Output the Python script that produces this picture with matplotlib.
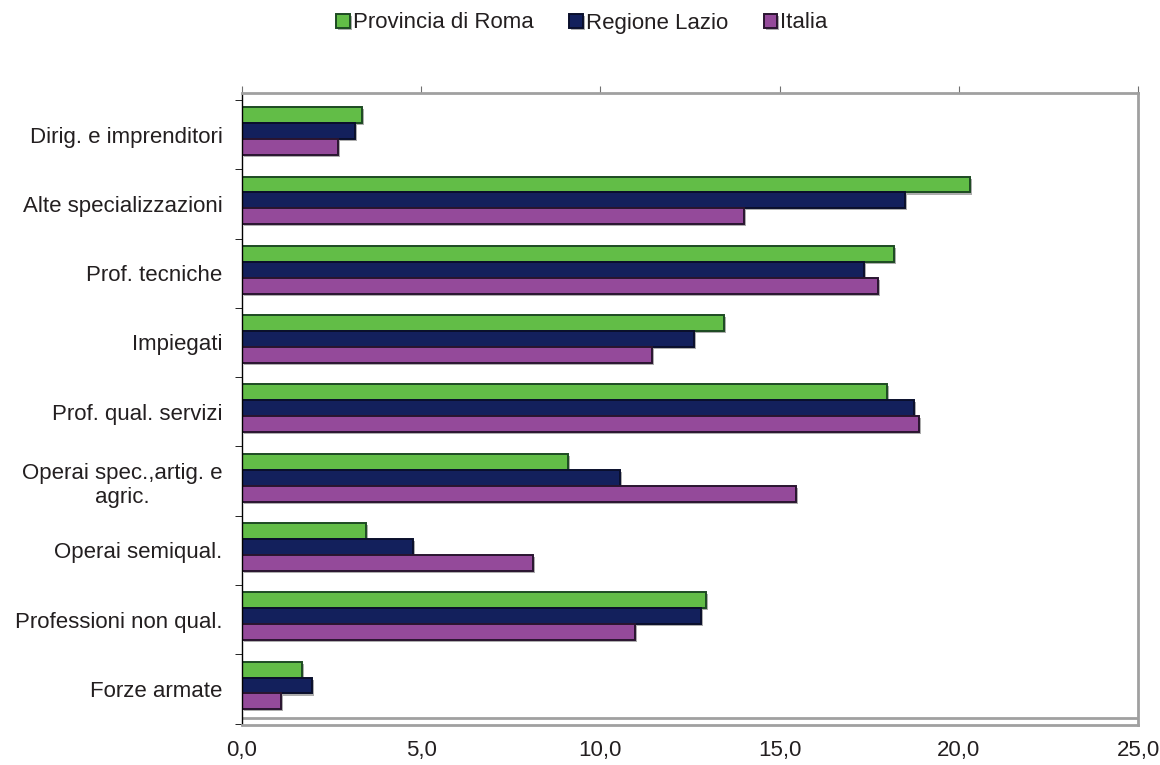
import matplotlib
matplotlib.use('Agg')
from matplotlib import pyplot as plt
from matplotlib import patheffects as pe
import numpy as np

plt.rcParams['font.family'] = ['Liberation Sans', 'DejaVu Sans']
plt.rcParams['text.color'] = '#231f20'

# dati
categorie = ['Dirig. e imprenditori', 'Alte specializzazioni', 'Prof. tecniche',
             'Impiegati', 'Prof. qual. servizi', 'Operai spec.,artig. e\nagric.',
             'Operai semiqual.', 'Professioni non qual.', 'Forze armate']
provincia_roma = [3.35, 20.3, 18.2, 13.45, 18.0, 9.1, 3.45, 12.95, 1.67]
regione_lazio = [3.15, 18.5, 17.35, 12.6, 18.75, 10.55, 4.77, 12.8, 1.95]
italia = [2.68, 14.0, 17.75, 11.45, 18.9, 15.45, 8.12, 10.97, 1.09]
serie = ['Provincia di Roma', 'Regione Lazio', 'Italia']
colori = ['#62bd47', '#13205c', '#944a9a']
bordi = ['#1d4a22', '#0a0f2c', '#2a1530']

fig = plt.figure(figsize=(11.6, 7.65), dpi=100)
ax = fig.add_axes([242 / 1160, 1 - 725 / 765, (1138 - 242) / 1160, (725 - 93) / 765])

y = np.arange(len(categorie))
h = 0.23
ombra = [pe.SimplePatchShadow(offset=(1.5, -1.5), shadow_rgbFace='0.6', alpha=0.8), pe.Normal()]
for i, (vals, col, bc, nome) in enumerate(zip([provincia_roma, regione_lazio, italia], colori, bordi, serie)):
    bars = ax.barh(y - 0.05 - h + i * h, vals, height=h, color=col, edgecolor=bc, linewidth=1.4, label=nome)
    for b in bars:
        b.set_path_effects(ombra)

ax.set_xlim(0, 25)
ax.set_ylim(len(categorie) - 0.5 + 0.02, -0.5 - 0.1)
ax.set_xticks(np.arange(0, 26, 5))
ax.set_xticklabels([f'{v:.1f}'.replace('.', ',') for v in np.arange(0, 26, 5)])
ax.set_yticks(y)
ax.set_yticklabels(categorie, ha='right', multialignment='center')
ax.set_yticks(np.arange(-0.5, len(categorie), 1), minor=True)
ax.tick_params(axis='y', which='major', length=0, pad=14, labelsize=16, labelcolor='#231f20')
ax.tick_params(axis='y', which='minor', length=5, direction='out', color='black')
ax.tick_params(axis='x', top=True, bottom=False, labeltop=False, labelbottom=True,
               length=5, color='#707070', labelsize=16, labelcolor='#231f20', pad=6)

for s in ['top', 'right', 'bottom']:
    ax.spines[s].set_color('#a0a0a0')
    ax.spines[s].set_linewidth(2)
ax.spines['left'].set_color('black')
ax.spines['left'].set_linewidth(1)
ax.axhline(len(categorie) - 0.5 - 0.08, color='#a0a0a0', lw=2)

fig.legend(loc='center', bbox_to_anchor=(582 / 1160, 1 - 23 / 765), ncol=3, frameon=False,
           fontsize=16, handlelength=0.6, handleheight=0.6, handletextpad=0.15, columnspacing=1.6)

plt.savefig('out.png', dpi=100)
plt.close()
